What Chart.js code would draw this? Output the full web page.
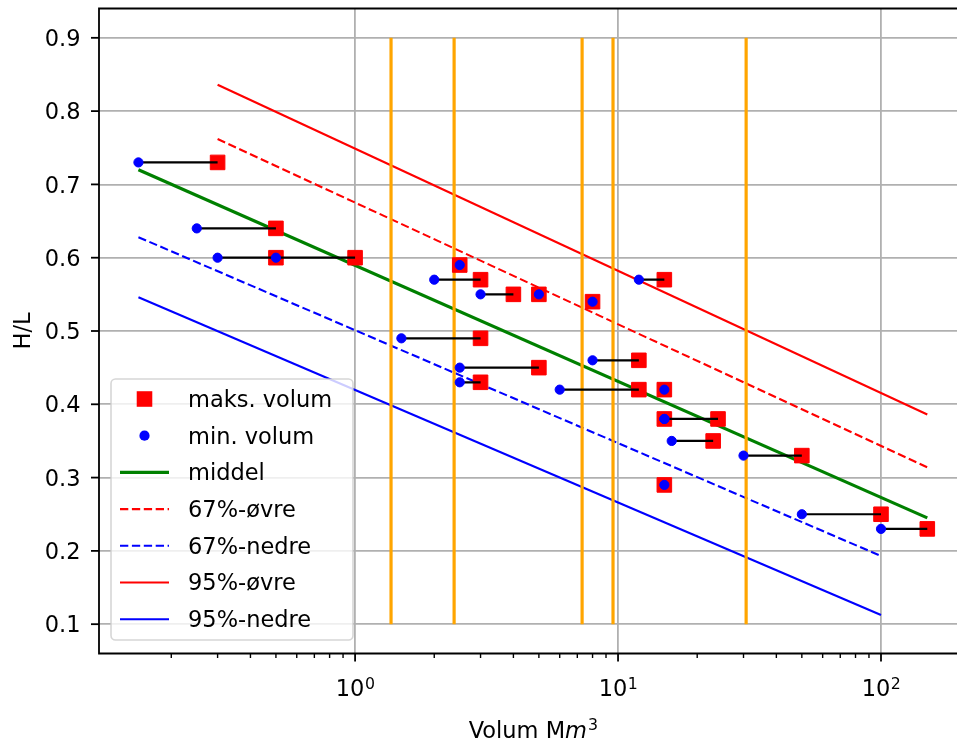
<!DOCTYPE html>
<html><head><meta charset="utf-8">
<script src="https://cdn.jsdelivr.net/npm/chart.js@4.4.1/dist/chart.umd.min.js"></script>
<style>
html,body{margin:0;padding:0;background:#fff;overflow:hidden;width:957px;height:742px}
#wrap{position:relative;width:990px;height:742px}
</style>
</head><body><div id="wrap"><canvas id="c" width="990" height="742"></canvas></div>
<script>
// ---------- data ----------
const minVolum  = [0.15,0.25,0.3,0.5,2.5,2,3,5,8,12, 1.5,8,2.5,2.5,6,15,15,15,16,30, 15,50,100];
const maksVolum = [0.3,0.5,1,0.5,2.5,3,4,5,8,15, 3,12,5,3,12,15,15,24,23,50, 15,100,150];
const hl        = [0.73,0.64,0.60,0.60,0.59,0.57,0.55,0.55,0.54,0.57, 0.49,0.46,0.45,0.43,0.42,0.42,0.38,0.38,0.35,0.33, 0.29,0.25,0.23];

const middelX  = [0.15, 150];  const middelY  = [0.720, 0.245];
const ovre67X  = [0.3, 150];   const ovre67Y  = [0.762, 0.314];
const nedre67X = [0.15, 100];  const nedre67Y = [0.628, 0.193];
const ovre95X  = [0.3, 150];   const ovre95Y  = [0.836, 0.386];
const nedre95X = [0.15, 100];  const nedre95Y = [0.546, 0.1125];

const vlineX = [1.37, 2.38, 7.3, 9.57, 30.7];
const vlineY = [0.1, 0.9];

const yTicks = [0.1,0.2,0.3,0.4,0.5,0.6,0.7,0.8,0.9];
const yTickLabels = ['0.1','0.2','0.3','0.4','0.5','0.6','0.7','0.8','0.9'];
const xMajor = [1, 10, 100];
const xMajorExp = ['0','1','2'];
const xMinor = [0.2,0.3,0.4,0.5,0.6,0.7,0.8,0.9,2,3,4,5,6,7,8,9,20,30,40,50,60,70,80,90,200];
const X_MIN = 0.1062, X_MAX = 211.8, Y_MIN = 0.06, Y_MAX = 0.94;

const legendLabels = ['maks. volum','min. volum','middel','67%-øvre','67%-nedre','95%-øvre','95%-nedre'];

// ---------- datasets ----------
const pts = (xs, ys) => xs.map((x, i) => ({x, y: ys[i]}));
const connectors = [];
minVolum.forEach((x, i) => { connectors.push({x, y: hl[i]}, {x: maksVolum[i], y: hl[i]}, {x: maksVolum[i], y: null}); });
const vlines = [];
vlineX.forEach(x => { vlines.push({x, y: vlineY[0]}, {x, y: vlineY[1]}, {x, y: null}); });

const FONT = '"DejaVu Sans", "Liberation Sans", sans-serif';
const FS = 22.5;
const lineDs = (label, xs, ys, color, w, dash) => ({label, data: pts(xs, ys), showLine: true, borderColor: color, borderWidth: w, borderDash: dash || [], pointRadius: 0, fill: false});

const datasets = [
  {label: legendLabels[1], data: pts(minVolum, hl), pointStyle: 'circle', pointRadius: 4.6, backgroundColor: '#0000ff', borderColor: '#0000ff', borderWidth: 1, showLine: false},
  {label: 'connect', data: connectors, showLine: true, spanGaps: false, borderColor: '#000000', borderWidth: 2.2, pointRadius: 0},
  {label: legendLabels[0], data: pts(maksVolum, hl), pointStyle: 'rect', pointRadius: 10.3, backgroundColor: '#ff0000', borderColor: '#ff0000', borderWidth: 1, showLine: false},
  {label: 'vlines', data: vlines, showLine: true, spanGaps: false, borderColor: '#ffa500', borderWidth: 3.2, pointRadius: 0},
  lineDs(legendLabels[2], middelX, middelY, '#008000', 3.2),
  lineDs(legendLabels[3], ovre67X, ovre67Y, '#ff0000', 2.1, [8.3, 3.6]),
  lineDs(legendLabels[4], nedre67X, nedre67Y, '#0000ff', 2.1, [8.3, 3.6]),
  lineDs(legendLabels[5], ovre95X, ovre95Y, '#ff0000', 2.1),
  lineDs(legendLabels[6], nedre95X, nedre95Y, '#0000ff', 2.1)
];

// ---------- plugins ----------
const bgPlugin = {
  id: 'bg',
  beforeDraw(chart) {
    const c = chart.ctx; c.save(); c.fillStyle = '#fff'; c.fillRect(0, 0, chart.width, chart.height); c.restore();
  }
};

const axesPlugin = {
  id: 'mplAxes',
  afterDatasetsDraw(chart) {
    const c = chart.ctx, a = chart.chartArea;
    const xs = chart.scales.x, ys = chart.scales.y;
    c.save();
    // spines
    c.strokeStyle = '#000'; c.lineWidth = 1.8;
    c.beginPath();
    c.moveTo(a.left, a.top); c.lineTo(a.right, a.top);
    c.moveTo(a.left, a.top - 0.9); c.lineTo(a.left, a.bottom + 0.9);
    c.moveTo(a.left, a.bottom); c.lineTo(a.right, a.bottom);
    c.moveTo(a.right, a.top - 0.9); c.lineTo(a.right, a.bottom + 0.9);
    c.stroke();
    // y ticks
    c.lineWidth = 1.8;
    c.fillStyle = '#000';
    c.font = FS + 'px ' + FONT;
    c.textAlign = 'right'; c.textBaseline = 'alphabetic';
    yTicks.forEach((v, i) => {
      const y = ys.getPixelForValue(v);
      c.beginPath(); c.moveTo(a.left, y); c.lineTo(a.left - 8, y); c.stroke();
      c.fillText(yTickLabels[i], a.left - 18.5, y + 8.2);
    });
    // x ticks
    xMajor.forEach((v, i) => {
      const x = xs.getPixelForValue(v);
      c.beginPath(); c.moveTo(x, a.bottom); c.lineTo(x, a.bottom + 8); c.stroke();
      c.font = FS + 'px ' + FONT;
      const w1 = c.measureText('10').width;
      c.font = (FS * 0.7) + 'px ' + FONT;
      const w2 = c.measureText(xMajorExp[i]).width;
      const x0 = x - (w1 + w2) / 2;
      c.textAlign = 'left';
      c.font = FS + 'px ' + FONT;
      c.fillText('10', x0, 696);
      c.font = (FS * 0.7) + 'px ' + FONT;
      c.fillText(xMajorExp[i], x0 + w1 + 0.5, 689);
    });
    c.lineWidth = 1.4;
    xMinor.forEach(v => {
      const x = xs.getPixelForValue(v);
      c.beginPath(); c.moveTo(x, a.bottom); c.lineTo(x, a.bottom + 4.5); c.stroke();
    });
    // x title: Volum Mm^3
    const cx = (a.left + a.right) / 2;
    c.font = FS + 'px ' + FONT;
    const t1 = 'Volum M';
    const wt1 = c.measureText(t1).width;
    c.font = 'oblique ' + FS + 'px ' + FONT;
    const wt2 = c.measureText('m').width;
    c.font = (FS * 0.7) + 'px ' + FONT;
    const wt3 = c.measureText('3').width;
    let tx = cx - (wt1 + wt2 + wt3) / 2;
    c.textAlign = 'left';
    c.font = FS + 'px ' + FONT; c.fillText(t1, tx, 737.5);
    c.font = 'oblique ' + FS + 'px ' + FONT; c.fillText('m', tx + wt1, 737.5);
    c.font = (FS * 0.7) + 'px ' + FONT; c.fillText('3', tx + wt1 + wt2 + 1, 729.5);
    // y title
    c.save();
    c.translate(29.5, (a.top + a.bottom) / 2);
    c.rotate(-Math.PI / 2);
    c.textAlign = 'center';
    c.font = FS + 'px ' + FONT;
    c.fillText('H/L', 0, 0);
    c.restore();

    // legend
    const L = {x: 111, y: 379, w: 242, h: 261, r: 4.5};
    c.beginPath();
    c.moveTo(L.x + L.r, L.y);
    c.arcTo(L.x + L.w, L.y, L.x + L.w, L.y + L.h, L.r);
    c.arcTo(L.x + L.w, L.y + L.h, L.x, L.y + L.h, L.r);
    c.arcTo(L.x, L.y + L.h, L.x, L.y, L.r);
    c.arcTo(L.x, L.y, L.x + L.w, L.y, L.r);
    c.closePath();
    c.fillStyle = 'rgba(255,255,255,0.8)'; c.fill();
    c.strokeStyle = 'rgba(204,204,204,0.8)'; c.lineWidth = 1.6; c.stroke();
    const order = [2, 0, 4, 5, 6, 7, 8];
    order.forEach((di, k) => {
      const ds = chart.data.datasets[di];
      const ry = 399 + k * 36.7;
      c.save();
      if (ds.showLine) {
        c.strokeStyle = ds.borderColor; c.lineWidth = ds.borderWidth;
        c.setLineDash(ds.borderDash || []);
        c.beginPath(); c.moveTo(120, ry); c.lineTo(169, ry); c.stroke();
      } else {
        c.fillStyle = ds.backgroundColor;
        if (ds.pointStyle === 'rect') {
          const s = ds.pointRadius * Math.SQRT1_2 + 0.5;
          c.fillRect(144.5 - s, ry - s, 2 * s, 2 * s);
        } else {
          c.beginPath(); c.arc(144.5, ry, ds.pointRadius + 0.5, 0, Math.PI * 2); c.fill();
        }
      }
      c.restore();
      c.fillStyle = '#000'; c.font = FS + 'px ' + FONT; c.textAlign = 'left';
      c.fillText(ds.label, 188, ry + 7.8);
    });
    c.restore();
  }
};

new Chart(document.getElementById('c').getContext('2d'), {
  type: 'scatter',
  data: {datasets},
  options: {
    responsive: false, animation: false, devicePixelRatio: 1,
    layout: {autoPadding: false, padding: {top: 8.5, right: 23.3, left: 0, bottom: 0}},
    plugins: {legend: {display: false}, tooltip: {enabled: false}},
    elements: {line: {tension: 0}},
    scales: {
      x: {
        type: 'logarithmic', min: X_MIN, max: X_MAX,
        afterBuildTicks: s => { s.ticks = xMajor.map(v => ({value: v})); },
        afterFit: s => { s.height = 88.5; },
        grid: {color: '#b0b0b0', lineWidth: 1.8, drawTicks: false},
        border: {display: false},
        ticks: {display: false}
      },
      y: {
        type: 'linear', min: Y_MIN, max: Y_MAX,
        afterBuildTicks: s => { s.ticks = yTicks.map(v => ({value: v})); },
        afterFit: s => { s.width = 99; },
        grid: {color: '#b0b0b0', lineWidth: 1.8, drawTicks: false},
        border: {display: false},
        ticks: {display: false}
      }
    }
  },
  plugins: [bgPlugin, axesPlugin]
});
</script>
</body></html>
